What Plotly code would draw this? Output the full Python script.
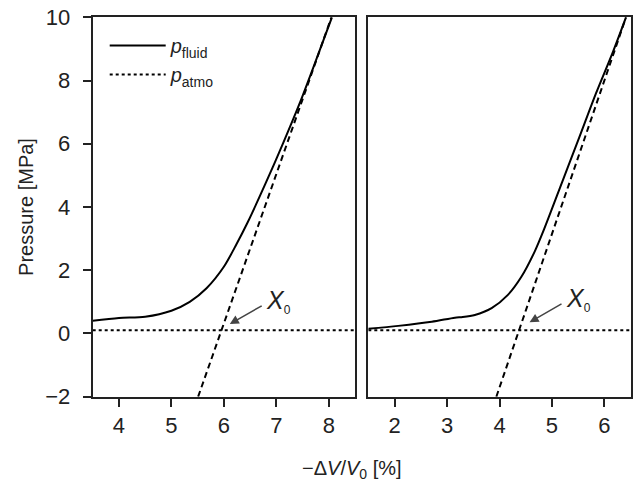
import plotly.graph_objects as go

# ---- data ----
left_x = [3.5, 4.0, 4.5, 5.0, 5.35, 5.67, 6.0, 6.24, 6.45, 6.81, 7.13, 7.45, 7.77, 8.06]
left_p = [0.40, 0.49, 0.53, 0.72, 1.0, 1.43, 2.11, 2.82, 3.50, 4.80, 6.02, 7.30, 8.70, 10.0]
left_tan_x = [5.51, 8.05]
left_tan_p = [-2.0, 10.0]

right_x = [1.5, 2.07, 2.71, 3.15, 3.3, 3.53, 3.85, 4.16, 4.42, 4.67, 4.85, 5.21, 5.52, 5.84, 6.16, 6.41]
right_p = [0.15, 0.24, 0.37, 0.50, 0.52, 0.585, 0.80, 1.22, 1.80, 2.59, 3.3, 4.86, 6.2, 7.6, 8.9, 10.0]
right_tan_x = [3.94, 6.41]
right_tan_p = [-2.0, 10.0]

p_atmo = 0.1
left_range = [3.5, 8.5]
right_range = [1.5, 6.5]
y_ticks = [-2, 0, 2, 4, 6, 8, 10]
left_ticks = [4, 5, 6, 7, 8]
right_ticks = [2, 3, 4, 5, 6]

W, H = 633, 481
FONT = "Liberation Sans, Arial, sans-serif"
TXT = "#222"

fig = go.Figure()

# left panel
fig.add_trace(go.Scatter(x=left_x, y=left_p, mode="lines", line=dict(color="black", width=2, shape="spline", smoothing=0.8),
                         name="<i>p</i><sub>fluid</sub>", legendgroup="a", xaxis="x", yaxis="y"))
fig.add_trace(go.Scatter(x=left_range, y=[p_atmo, p_atmo], mode="lines", line=dict(color="black", width=2, dash="dot"),
                         name="<i>p</i><sub>atmo</sub>", legendgroup="b", xaxis="x", yaxis="y"))
fig.add_trace(go.Scatter(x=left_tan_x, y=left_tan_p, mode="lines", line=dict(color="black", width=2, dash="6px,4px"),
                         showlegend=False, xaxis="x", yaxis="y"))
# right panel
fig.add_trace(go.Scatter(x=right_x, y=right_p, mode="lines", line=dict(color="black", width=2, shape="spline", smoothing=0.8),
                         showlegend=False, xaxis="x2", yaxis="y2"))
fig.add_trace(go.Scatter(x=right_range, y=[p_atmo, p_atmo], mode="lines", line=dict(color="black", width=2, dash="dot"),
                         showlegend=False, xaxis="x2", yaxis="y2"))
fig.add_trace(go.Scatter(x=right_tan_x, y=right_tan_p, mode="lines", line=dict(color="black", width=2, dash="6px,4px"),
                         showlegend=False, xaxis="x2", yaxis="y2"))

ydom = [1 - 396.7 / H, 1 - 17.3 / H]
axis_common = dict(showline=True, linecolor="#222", linewidth=2, mirror=True, showgrid=False, zeroline=False,
                   ticks="outside", ticklen=8, tickwidth=2, tickcolor="#222", automargin=False,
                   tickfont=dict(family=FONT, size=22, color=TXT))

fig.update_layout(
    template="none",
    width=W, height=H, margin=dict(l=0, r=0, t=0, b=0, pad=0, autoexpand=False),
    paper_bgcolor="white", plot_bgcolor="white",
    xaxis=dict(domain=[92.7 / W, 355 / W], range=left_range, tickvals=left_ticks, anchor="y", **axis_common),
    yaxis=dict(domain=ydom, range=[-2, 10], tickvals=y_ticks, anchor="x", ticklabelstandoff=8,
               title=dict(text="Pressure [MPa]", font=dict(family=FONT, size=20, color=TXT), standoff=6),
               **axis_common),
    xaxis2=dict(domain=[368.3 / W, 630.7 / W], range=right_range, tickvals=right_ticks, anchor="y2", **axis_common),
    yaxis2=dict(domain=ydom, range=[-2, 10], tickvals=y_ticks, anchor="x2", **{**axis_common, "ticks": "", "showticklabels": False}),
    legend=dict(x=104.7 / W, y=1 - 26 / H, xanchor="left", yanchor="top", bgcolor="rgba(0,0,0,0)",
                font=dict(family=FONT, size=20, color=TXT), tracegroupgap=0, itemwidth=56),
    showlegend=True,
)

x0_text = "<i>X</i><sub><span style='font-size:12px'>0</span></sub>"
arrow = dict(showarrow=True, arrowhead=2, arrowsize=1.2, arrowwidth=1.5, arrowcolor="#444", text="", standoff=2)
fig.add_annotation(x=6.08, y=0.27, ax=6.75, ay=0.90, xref="x", yref="y", axref="x", ayref="y", **arrow)
fig.add_annotation(x=6.76, y=1.0, xref="x", yref="y", text=x0_text, showarrow=False, xanchor="left",
                   font=dict(family=FONT, size=25, color=TXT))
fig.add_annotation(x=4.54, y=0.32, ax=5.21, ay=0.96, xref="x2", yref="y2", axref="x2", ayref="y2", **arrow)
fig.add_annotation(x=5.22, y=1.06, xref="x2", yref="y2", text=x0_text, showarrow=False, xanchor="left",
                   font=dict(family=FONT, size=25, color=TXT))

fig.add_annotation(x=352 / W, y=1 - 469 / H, xref="paper", yref="paper", showarrow=False, yanchor="middle",
                   text="−Δ<i>V</i>/<i>V</i><sub>0</sub> [%]", font=dict(family=FONT, size=20, color=TXT))

fig.write_html("out.html")
